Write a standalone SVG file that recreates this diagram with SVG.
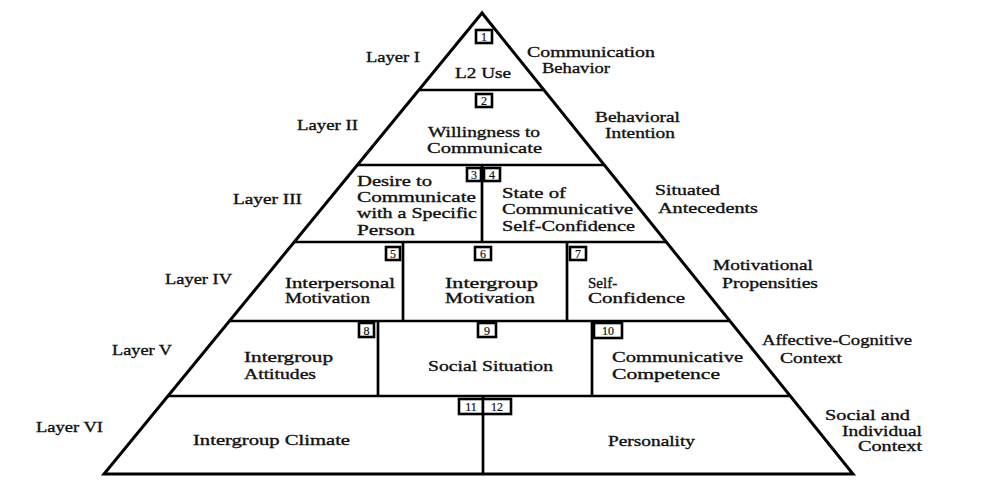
<svg xmlns="http://www.w3.org/2000/svg" width="1008" height="487" viewBox="0 0 1008 487">
<style>
text{font-family:"Liberation Serif","Times New Roman",serif;font-size:15px;fill:#111;stroke:#111;stroke-width:0.35;}
.num{font-size:12px;text-anchor:middle;stroke-width:0.2;}
.edge{fill:none;stroke:#000;stroke-width:3;stroke-linejoin:miter;}
.ln{stroke:#000;stroke-width:2.7;fill:none;}
.box{fill:#fff;stroke:#000;stroke-width:2.6;}
</style>
<rect width="1008" height="487" fill="#fff"/>
<g id="connectors">
<polygon class="edge" points="482,13 104,474 853,474"/>
<line class="ln" x1="419" y1="90" x2="544" y2="90"/>
<line class="ln" x1="357" y1="165" x2="604" y2="165"/>
<line class="ln" x1="294" y1="242" x2="666" y2="242"/>
<line class="ln" x1="230" y1="321" x2="729" y2="321"/>
<line class="ln" x1="168" y1="396" x2="789" y2="396"/>
<line class="ln" x1="482" y1="165" x2="482" y2="242"/>
<line class="ln" x1="403" y1="242" x2="403" y2="321"/>
<line class="ln" x1="567" y1="242" x2="567" y2="321"/>
<line class="ln" x1="378" y1="321" x2="378" y2="396"/>
<line class="ln" x1="592" y1="321" x2="592" y2="396"/>
<line class="ln" x1="483" y1="396" x2="483" y2="474"/>
</g>
<g id="layer-labels">
<text x="366" y="62" textLength="54" lengthAdjust="spacingAndGlyphs">Layer I</text>
<text x="297" y="130" textLength="61" lengthAdjust="spacingAndGlyphs">Layer II</text>
<text x="233" y="204" textLength="69" lengthAdjust="spacingAndGlyphs">Layer III</text>
<text x="165" y="284" textLength="67" lengthAdjust="spacingAndGlyphs">Layer IV</text>
<text x="112" y="355" textLength="60" lengthAdjust="spacingAndGlyphs">Layer V</text>
<text x="36" y="432" textLength="67" lengthAdjust="spacingAndGlyphs">Layer VI</text>
</g>
<g id="right-labels">
<text x="527" y="57" textLength="128" lengthAdjust="spacingAndGlyphs">Communication</text>
<text x="542" y="73" textLength="68" lengthAdjust="spacingAndGlyphs">Behavior</text>
<text x="595" y="122" textLength="85" lengthAdjust="spacingAndGlyphs">Behavioral</text>
<text x="605" y="138" textLength="70" lengthAdjust="spacingAndGlyphs">Intention</text>
<text x="655" y="195" textLength="65" lengthAdjust="spacingAndGlyphs">Situated</text>
<text x="658" y="213" textLength="100" lengthAdjust="spacingAndGlyphs">Antecedents</text>
<text x="713" y="270" textLength="100" lengthAdjust="spacingAndGlyphs">Motivational</text>
<text x="722" y="288" textLength="96" lengthAdjust="spacingAndGlyphs">Propensities</text>
<text x="762" y="345" textLength="150" lengthAdjust="spacingAndGlyphs">Affective-Cognitive</text>
<text x="780" y="363" textLength="62" lengthAdjust="spacingAndGlyphs">Context</text>
<text x="825" y="420" textLength="85" lengthAdjust="spacingAndGlyphs">Social and</text>
<text x="842" y="436" textLength="80" lengthAdjust="spacingAndGlyphs">Individual</text>
<text x="858" y="451" textLength="64" lengthAdjust="spacingAndGlyphs">Context</text>
</g>
<g id="node1">
<rect class="box" x="476" y="30" width="16" height="13"/>
<text class="num" x="484" y="41">1</text>
<text x="455" y="78" textLength="56" lengthAdjust="spacingAndGlyphs">L2 Use</text>
</g>
<g id="node2">
<rect class="box" x="476" y="94" width="16" height="13"/>
<text class="num" x="484" y="105">2</text>
<text x="428" y="137" textLength="112" lengthAdjust="spacingAndGlyphs">Willingness to</text>
<text x="427" y="153" textLength="115" lengthAdjust="spacingAndGlyphs">Communicate</text>
</g>
<g id="node3">
<rect class="box" x="467" y="168" width="14" height="13"/>
<text class="num" x="474" y="179">3</text>
<text x="357" y="186" textLength="75" lengthAdjust="spacingAndGlyphs">Desire to</text>
<text x="357" y="202" textLength="119" lengthAdjust="spacingAndGlyphs">Communicate</text>
<text x="357" y="218" textLength="120" lengthAdjust="spacingAndGlyphs">with a Specific</text>
<text x="357" y="235" textLength="58" lengthAdjust="spacingAndGlyphs">Person</text>
</g>
<g id="node4">
<rect class="box" x="484" y="168" width="16" height="13"/>
<text class="num" x="492" y="179">4</text>
<text x="502" y="198" textLength="64" lengthAdjust="spacingAndGlyphs">State of</text>
<text x="502" y="214" textLength="131" lengthAdjust="spacingAndGlyphs">Communicative</text>
<text x="502" y="231" textLength="133" lengthAdjust="spacingAndGlyphs">Self-Confidence</text>
</g>
<g id="node5">
<rect class="box" x="386" y="247" width="14" height="13"/>
<text class="num" x="393" y="258">5</text>
<text x="285" y="288" textLength="110" lengthAdjust="spacingAndGlyphs">Interpersonal</text>
<text x="285" y="303" textLength="85" lengthAdjust="spacingAndGlyphs">Motivation</text>
</g>
<g id="node6">
<rect class="box" x="475" y="247" width="16" height="13"/>
<text class="num" x="483" y="258">6</text>
<text x="445" y="288" textLength="93" lengthAdjust="spacingAndGlyphs">Intergroup</text>
<text x="445" y="303" textLength="90" lengthAdjust="spacingAndGlyphs">Motivation</text>
</g>
<g id="node7">
<rect class="box" x="570" y="247" width="16" height="13"/>
<text class="num" x="578" y="258">7</text>
<text x="588" y="288">Self-</text>
<text x="588" y="303" textLength="97" lengthAdjust="spacingAndGlyphs">Confidence</text>
</g>
<g id="node8">
<rect class="box" x="359" y="323" width="15" height="14"/>
<text class="num" x="366.5" y="334.5">8</text>
<text x="244" y="362" textLength="89" lengthAdjust="spacingAndGlyphs">Intergroup</text>
<text x="244" y="379" textLength="72" lengthAdjust="spacingAndGlyphs">Attitudes</text>
</g>
<g id="node9">
<rect class="box" x="478" y="323" width="18" height="14"/>
<text class="num" x="487" y="334.5">9</text>
<text x="428" y="371" textLength="125" lengthAdjust="spacingAndGlyphs">Social Situation</text>
</g>
<g id="node10">
<rect class="box" x="594" y="323" width="28" height="15"/>
<text class="num" x="608" y="335">10</text>
<text x="612" y="362" textLength="131" lengthAdjust="spacingAndGlyphs">Communicative</text>
<text x="612" y="379" textLength="108" lengthAdjust="spacingAndGlyphs">Competence</text>
</g>
<g id="node11">
<rect class="box" x="459" y="399" width="24" height="15"/>
<text class="num" x="471" y="411">11</text>
<text x="193" y="445" textLength="157" lengthAdjust="spacingAndGlyphs">Intergroup Climate</text>
</g>
<g id="node12">
<rect class="box" x="483" y="399" width="28" height="15"/>
<text class="num" x="497" y="411">12</text>
<text x="608" y="446" textLength="87" lengthAdjust="spacingAndGlyphs">Personality</text>
</g>
</svg>
